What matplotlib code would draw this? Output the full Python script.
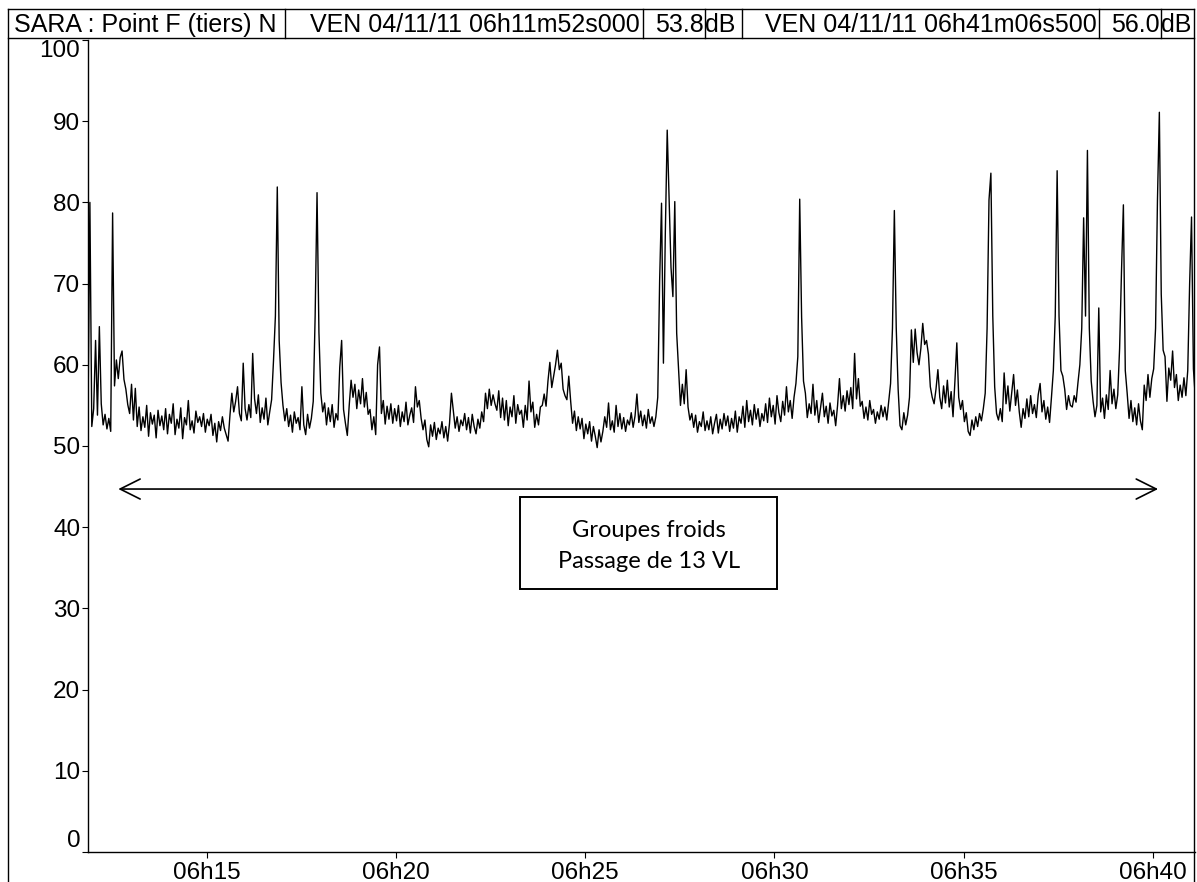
import matplotlib as mpl
import matplotlib.pyplot as plt
from matplotlib.lines import Line2D
from matplotlib.patches import Rectangle
from matplotlib.ticker import FuncFormatter
import numpy as np

mpl.rcParams['font.family'] = ['Liberation Sans', 'DejaVu Sans']

# header fields
station = "SARA : Point F (tiers) N"
start_label = "VEN 04/11/11 06h11m52s000"
start_level = 53.8
end_label = "VEN 04/11/11 06h41m06s500"
end_level = 56.0
unit = "dB"

# time base, seconds since midnight
t_start = 6*3600 + 11*60 + 52
t_end = 6*3600 + 41*60 + 6.5
step = 3

# sound level in dB, one row per minute from 06h11m52
levels = [
    53.8, 80.0, 52.4, 54.6, 63.0, 53.8, 64.7, 55.2, 52.6, 53.9, 52.1, 53.4, 51.8, 78.7, 57.4, 60.6, 58.3, 60.9, 61.7, 58.2,
    57.0, 55.1, 54.0, 57.6, 53.2, 57.1, 52.4, 54.8, 51.9, 53.6, 52.3, 55.0, 51.2, 54.1, 52.7, 53.8, 51.0, 54.4, 52.5, 53.7,
    52.0, 54.6, 51.5, 53.9, 52.8, 55.2, 51.4, 53.3, 52.2, 54.7, 50.9, 53.5, 52.6, 55.6, 52.0, 53.1, 51.6, 54.3, 52.9, 53.6,
    52.4, 54.0, 51.7, 53.3, 52.5, 53.9, 51.3, 52.8, 50.5, 53.0, 51.9, 53.6, 52.2, 51.4, 50.6, 53.8, 56.5, 54.2, 55.5, 57.3,
    54.0, 53.1, 60.2, 54.6, 53.2, 55.1, 53.5, 61.4, 55.8, 54.0, 56.3, 52.9, 54.7, 53.3, 55.9, 52.6, 54.2, 55.7, 60.5, 66.0,
    81.9, 63.0, 57.8, 55.0, 53.1, 54.6, 52.4, 53.8, 51.7, 54.2, 52.8, 53.5, 52.0, 57.3, 52.6, 51.4, 53.9, 52.2, 53.4, 55.5,
    66.0, 81.2, 64.0, 56.5, 54.2, 55.3, 52.6, 54.7, 53.0, 55.1, 52.3, 54.0, 53.2, 59.7, 63.0, 54.5, 52.8, 51.3, 55.0, 58.1,
    56.0, 57.6, 54.6, 56.9, 55.2, 58.3, 54.8, 56.6, 53.9, 54.5, 52.0, 53.6, 51.4, 60.0, 62.2, 54.0, 55.6, 52.7, 54.9, 53.3,
    55.2, 52.8, 54.6, 53.1, 55.0, 52.4, 54.2, 53.0, 55.4, 52.6, 53.8, 54.7, 52.9, 57.3, 54.8, 55.6, 53.4, 52.0, 53.2, 50.8,
    49.9, 52.6, 51.2, 52.9, 50.8, 52.2, 51.5, 53.0, 51.0, 52.4, 50.6, 52.8, 56.5, 54.3, 52.2, 53.6, 51.8, 53.2, 52.5, 54.0,
    52.0, 53.5, 51.6, 53.9, 52.4, 51.5, 53.3, 52.2, 54.2, 53.0, 56.5, 54.6, 57.0, 55.0, 56.3, 55.2, 54.4, 56.8, 53.5, 55.9,
    53.2, 55.6, 52.5, 54.8, 53.6, 56.2, 52.8, 55.1, 53.9, 54.4, 52.3, 55.0, 53.2, 58.0, 54.2, 55.4, 52.3, 53.9, 52.6, 54.8,
    55.0, 56.4, 54.9, 58.0, 60.3, 57.2, 58.6, 60.0, 61.8, 59.4, 60.2, 57.0, 56.2, 55.7, 58.6, 55.5, 52.8, 54.3, 51.9, 53.6,
    52.1, 53.4, 50.9, 52.7, 51.5, 53.0, 50.6, 52.4, 51.2, 49.8, 52.0, 50.5, 51.8, 53.6, 52.3, 55.3, 52.0, 53.1, 51.7, 55.0,
    52.4, 54.0, 52.1, 53.5, 51.8, 53.2, 52.6, 54.1, 52.3, 53.7, 56.4, 52.9, 54.3, 52.5, 53.8, 52.2, 54.5, 52.8, 53.6, 52.4,
    53.6, 56.0, 70.4, 79.9, 60.2, 76.2, 88.9, 80.3, 72.0, 68.4, 80.1, 63.9, 59.5, 55.0, 57.6, 55.2, 59.4, 54.8, 53.2, 54.0,
    52.3, 53.8, 51.7, 53.0, 52.4, 54.2, 51.9, 53.1, 52.0, 53.6, 51.5, 52.8, 53.9, 51.6, 53.3, 52.1, 54.0, 52.5, 53.7, 51.8,
    53.4, 52.2, 54.3, 51.7, 53.6, 52.8, 54.9, 52.3, 55.6, 53.0, 54.4, 52.6, 55.1, 53.3, 54.6, 52.4, 54.0, 53.1, 55.2, 52.9,
    55.9, 53.6, 55.0, 52.7, 56.2, 54.1, 53.0, 55.5, 53.8, 57.3, 54.2, 55.6, 53.4, 56.0, 57.7, 61.0, 80.4, 65.9, 58.0, 56.5,
    53.5, 55.2, 54.0, 57.6, 53.8, 55.6, 52.9, 54.7, 56.5, 53.6, 54.9, 52.8, 55.3, 53.7, 54.4, 52.5, 55.0, 58.3, 54.6, 56.2,
    54.3, 56.8, 55.1, 57.2, 54.6, 61.4, 55.8, 58.3, 54.9, 55.5, 53.4, 54.8, 53.2, 55.6, 53.9, 54.5, 52.8, 54.2, 53.3, 55.0,
    53.6, 54.8, 53.2, 55.4, 57.7, 64.5, 79.0, 64.5, 57.0, 52.5, 52.0, 54.1, 52.6, 53.8, 56.0, 64.3, 60.3, 64.4, 61.5, 60.0,
    62.0, 65.1, 62.5, 63.0, 61.3, 57.3, 56.0, 55.2, 57.0, 59.4, 56.0, 54.6, 57.4, 55.3, 58.1, 54.8, 56.7, 53.6, 58.0, 62.7,
    56.0, 54.5, 55.6, 53.0, 54.1, 51.8, 51.3, 53.2, 52.0, 53.6, 52.4, 54.0, 53.1, 54.6, 56.5, 64.5, 80.3, 83.6, 66.0, 57.3,
    54.0, 53.2, 54.6, 53.0, 59.0, 55.2, 57.4, 54.3, 56.6, 58.8, 55.0, 56.9, 54.2, 52.3, 54.6, 53.4, 55.8, 53.6, 56.2, 54.0,
    55.1, 53.5, 56.3, 57.7, 54.2, 55.6, 53.3, 54.8, 52.9, 56.0, 59.3, 66.0, 83.9, 66.0, 59.3, 58.6, 57.0, 54.5, 56.2, 55.0,
    54.8, 56.2, 55.4, 57.8, 60.0, 64.5, 78.1, 66.0, 86.4, 64.5, 58.0, 55.5, 53.6, 55.0, 67.0, 54.2, 55.9, 53.4, 56.3, 54.5,
    59.3, 55.2, 57.0, 54.6, 56.3, 62.0, 71.5, 79.7, 59.3, 56.5, 53.4, 55.6, 53.0, 54.7, 52.6, 55.2, 53.1, 52.0, 57.5, 55.6,
    58.8, 56.0, 58.3, 59.5, 64.5, 80.3, 91.1, 68.7, 61.8, 61.0, 55.5, 59.6, 58.1, 61.7, 57.2, 58.8, 55.6, 57.5, 56.0, 58.4,
    56.2, 59.3, 70.0, 78.2, 59.5, 56.0,
]

# annotation
arrow_from = 6*3600 + 12*60 + 40
arrow_to = 6*3600 + 40*60 + 8
arrow_level = 44.7
note_lines = ["Groupes froids", "Passage de 13 VL"]

tick_times = [6*3600 + m*60 for m in (15, 20, 25, 30, 35, 40)]

W, H = 1197, 882
fig = plt.figure(figsize=(W/100, H/100), dpi=100)


def fx(x):
    return x / W


def fy(y):
    return 1 - y / H


ax = fig.add_axes([fx(88), fy(852), (1195 - 88)/W, (852 - 40)/H])

t = t_start + step*np.arange(len(levels))
ax.plot(t, levels, color="black", lw=1.0)

ax.set_xlim(t_start, t_end)
ax.set_ylim(0, 100)
ax.set_yticks(range(0, 101, 10))
ax.set_xticks(tick_times)
ax.xaxis.set_major_formatter(FuncFormatter(lambda v, pos: f"{int(v//3600):02d}h{int(v % 3600//60):02d}"))
ax.tick_params(axis="both", direction="out", length=4, width=0.8, labelsize=17.5, pad=1.5)
ax.tick_params(axis="x", pad=3)
for s in ("top", "right"):
    ax.spines[s].set_visible(False)
for s in ("left", "bottom"):
    ax.spines[s].set_linewidth(1.0)

yticks = ax.yaxis.get_major_ticks()
yticks[0].label1.set_verticalalignment("bottom")
yticks[-1].label1.set_verticalalignment("top")

# double arrow over the recording period
ax.annotate("", xy=(arrow_from, arrow_level), xytext=(arrow_to, arrow_level),
            arrowprops=dict(arrowstyle="<->, head_length=0.72, head_width=0.36",
                            mutation_scale=20, lw=1.2, color="black",
                            shrinkA=0, shrinkB=0))

# note box
fig.add_artist(Rectangle((fx(520), fy(589)), (777 - 520)/W, (589 - 497)/H,
                         transform=fig.transFigure, fill=False, ec="black", lw=1.4))
fig.text(fx(649), fy(537), note_lines[0], ha="center", va="baseline",
         fontsize=17, family=["Lato", "DejaVu Sans"])
fig.text(fx(649), fy(568), note_lines[1], ha="center", va="baseline",
         fontsize=17, family=["Lato", "DejaVu Sans"])

# outer frame and header cells
frame_kw = dict(transform=fig.transFigure, color="black", lw=1.0)
fig.add_artist(Line2D([fx(8), fx(1194)], [fy(9), fy(9)], **frame_kw))
fig.add_artist(Line2D([fx(8), fx(1194)], [fy(38), fy(38)], **frame_kw))
fig.add_artist(Line2D([fx(8), fx(8)], [fy(9), 0], **frame_kw))
fig.add_artist(Line2D([fx(1194), fx(1194)], [fy(9), 0], **frame_kw))
for xd in (285, 643, 705, 742, 1099, 1161):
    fig.add_artist(Line2D([fx(xd), fx(xd)], [fy(9), fy(38)], **frame_kw))

hy = fy(32)
fig.text(fx(14), hy, station, ha="left", va="baseline", fontsize=18)
fig.text(fx(640), hy, start_label, ha="right", va="baseline", fontsize=18)
fig.text(fx(704), hy, f"{start_level:.1f}", ha="right", va="baseline", fontsize=18)
fig.text(fx(705), hy, unit, ha="left", va="baseline", fontsize=18)
fig.text(fx(1097), hy, end_label, ha="right", va="baseline", fontsize=18)
fig.text(fx(1160), hy, f"{end_level:.1f}", ha="right", va="baseline", fontsize=18)
fig.text(fx(1161), hy, unit, ha="left", va="baseline", fontsize=18)

fig.savefig("out.png", dpi=100)
